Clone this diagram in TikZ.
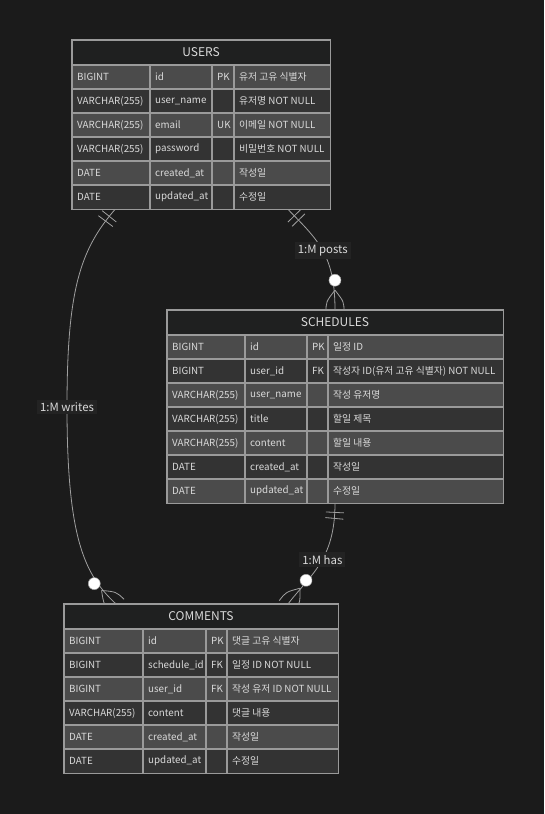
\documentclass[tikz,border=0pt]{standalone}
\usepackage{fontspec}
\setmainfont{Noto Sans CJK KR}
\usetikzlibrary{decorations.markings}
\pgfdeclarelayer{bglayer}
\pgfsetlayers{bglayer,main}
\definecolor{bgcol}{HTML}{1B1B1B}
\definecolor{hdr}{HTML}{1F2020}
\definecolor{rowA}{HTML}{4B4B4B}
\definecolor{rowB}{HTML}{333333}
\definecolor{gridcol}{HTML}{9A9A9A}
\definecolor{txt}{HTML}{DADADA}
\definecolor{edgecol}{HTML}{A0A0A0}
\definecolor{lblbg}{HTML}{232323}
\newcommand\rowfont{\fontsize{9.8}{12}\selectfont}
\newcommand\hdrfont{\fontsize{12}{14}\selectfont}
\newcommand\lblfont{\fontsize{11.4}{13}\selectfont}
\newcommand\ertable[6]{%
  \node[tablebox, minimum width={(#4-#2)*1pt}, minimum height={(25+24*\nr)*1pt}] (#1) at (#2,#3) {};
  \fill[hdr] (#2,#3) rectangle (#4,#3+25);
  \node[hdrtext] (#1-title) at ({(#2+#4)/2},#3+12.5) {#5};
  \foreach \ty/\nm/\ky/\cm [count=\i] in {#6}{%
    \pgfmathsetmacro\yt{#3+25+24*(\i-1)}%
    \ifodd\i\relax\def\rf{rowA}\else\def\rf{rowB}\fi
    \fill[fill=\rf] (#2,\yt) rectangle (#4,\yt+24);
    \node[celltext] (#1-\i-t) at (#2+5,\yt+12) {\ty};
    \node[celltext] (#1-\i-n) at (\cA+5,\yt+12) {\nm};
    \node[celltext] (#1-\i-k) at (\cB+5,\yt+12) {\ky};
    \node[celltext] (#1-\i-c) at (\cC+5,\yt+12) {\cm};
    \draw[gridline] (#2,\yt) -- (#4,\yt);
  }
  \draw[gridline] (\cA,#3+25) -- (\cA,#3+25+24*\nr)
                  (\cB,#3+25) -- (\cB,#3+25+24*\nr)
                  (\cC,#3+25) -- (\cC,#3+25+24*\nr);
  \draw[gridline] (#1.north west) rectangle (#1.south east);
}
\begin{document}
\begin{tikzpicture}[x=1pt,y=-1pt,
  tablebox/.style={inner sep=0pt, draw=none, anchor=north west},
  hdrtext/.style={text=txt, font=\hdrfont, inner sep=0pt},
  celltext/.style={text=txt, font=\rowfont, inner sep=0pt, anchor=west},
  gridline/.style={draw=gridcol, line width=1.2pt},
  relline/.style={draw=edgecol, line width=0.8pt},
  rel/.style={relline},
  lbl/.style={fill=lblbg, text=txt, font=\lblfont, inner xsep=3pt, inner ysep=3pt},
  oneone/.style={postaction={decorate, decoration={markings,
     mark=at position 9pt with {\draw[relline] (0pt,-9pt) -- (0pt,9pt);},
     mark=at position 15pt with {\draw[relline] (0pt,-9pt) -- (0pt,9pt);}}}},
  zeromany/.style={postaction={decorate, decoration={markings,
     mark=at position -0.3pt with {
       \draw[relline] (-19.5pt,0pt) .. controls (-8pt,-9pt) .. (3pt,-9pt);
       \draw[relline] (-19.5pt,0pt) .. controls (-8pt,9pt) .. (3pt,9pt);
       \filldraw[fill=white, draw=edgecol, line width=0.5pt] (-29.5pt,0pt) circle (6pt);}}}}
]
\useasboundingbox (0,0) rectangle (544,814);
\begin{pgfonlayer}{bglayer}
\fill[bgcol] (0,0) rectangle (544,814);
\end{pgfonlayer}

% USERS
\def\cA{150}\def\cB{212}\def\cC{234}\def\nr{6}
\ertable{users}{72}{40}{330}{USERS}{
  BIGINT/id/PK/유저 고유 식별자,
  VARCHAR(255)/user\_name//유저명 NOT NULL,
  VARCHAR(255)/email/UK/이메일 NOT NULL,
  VARCHAR(255)/password//비밀번호 NOT NULL,
  DATE/created\_at//작성일,
  DATE/updated\_at//수정일}

% SCHEDULES
\def\cA{245}\def\cB{307}\def\cC{328}\def\nr{7}
\ertable{schedules}{167}{310}{503}{SCHEDULES}{
  BIGINT/id/PK/일정 ID,
  BIGINT/user\_id/FK/작성자 ID(유저 고유 식별자) NOT NULL,
  VARCHAR(255)/user\_name//작성 유저명,
  VARCHAR(255)/title//할일 제목,
  VARCHAR(255)/content//할일 내용,
  DATE/created\_at//작성일,
  DATE/updated\_at//수정일}

% COMMENTS
\def\cA{143}\def\cB{206}\def\cC{227}\def\nr{6}
\ertable{comments}{64}{604}{338}{COMMENTS}{
  BIGINT/id/PK/댓글 고유 식별자,
  BIGINT/schedule\_id/FK/일정 ID NOT NULL,
  BIGINT/user\_id/FK/작성 유저 ID NOT NULL,
  VARCHAR(255)/content//댓글 내용,
  DATE/created\_at//작성일,
  DATE/updated\_at//수정일}

\begin{pgfonlayer}{bglayer}
\draw[rel, oneone, zeromany] ([xshift=43pt]users.south west)
   .. controls (80,250) and (67,290) .. (67,407) node[lbl] (lw) {1:M writes}
   .. controls (67,540) and (85,575) .. ([xshift=52pt]comments.north west);
\draw[rel, oneone, zeromany] ([xshift=216pt]users.south west)
   .. controls (318,240) and (335,255) .. ([xshift=168pt]schedules.north west)
   node[lbl, pos=0.5] (lp) {1:M posts};
\draw[rel, oneone, zeromany] ([xshift=168pt]schedules.south west)
   .. controls (335,560) and (310,575) .. ([xshift=224pt]comments.north west)
   node[lbl, pos=0.45] (lh) {1:M has};
\end{pgfonlayer}
\end{tikzpicture}
\end{document}
